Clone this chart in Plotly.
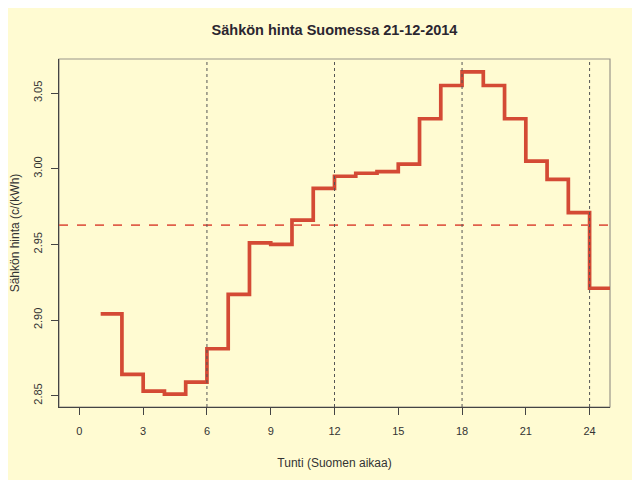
import plotly.graph_objects as go
import numpy as np

# Hourly electricity price (c/kWh), step from hour h to h+1; last value repeated to close the step
hours = list(range(1, 26))
price = [2.904, 2.864, 2.853, 2.851, 2.859, 2.881, 2.917, 2.951, 2.950, 2.966,
         2.987, 2.995, 2.997, 2.998, 3.003, 3.033, 3.055, 3.064, 3.055, 3.033,
         3.005, 2.993, 2.971, 2.921, 2.921]
guide_hours = [6, 12, 18, 24]
x_ticks = [0, 3, 6, 9, 12, 15, 18, 21, 24]
y_ticks = [2.85, 2.90, 2.95, 3.00, 3.05]

mean_price = float(np.mean(price[:24]))

bg = "#FFFBD2"
red = "#D44A35"
font = "Liberation Sans"

fig = go.Figure()

fig.add_trace(go.Scatter(
    x=hours, y=price, mode="lines", line_shape="hv",
    line=dict(color=red, width=3.7), showlegend=False
))

# mean line
fig.add_hline(y=mean_price, line=dict(color="#E0604B", width=1.8, dash="dash"))

for h in guide_hours:
    fig.add_vline(x=h, line=dict(color="#555555", width=1, dash="dot"))

# box around plot area
fig.add_shape(type="rect", xref="paper", yref="paper", x0=0, x1=1, y0=0, y1=1,
              line=dict(color="#9A968A", width=1.2), layer="below")

# page body has an 8px margin, so the figure is sized to fit the window
fig.update_layout(
    width=632, height=472,
    paper_bgcolor=bg, plot_bgcolor=bg,
    margin=dict(l=51, r=30, t=51, b=73),
    font=dict(family=font, size=12, color="#2B2630"),
    title=dict(text="<b>Sähkön hinta Suomessa 21-12-2014</b>", x=0.5, xanchor="center",
               xref="paper", y=0.953, yanchor="middle",
               font=dict(family=font, size=14.5, color="#2B2630")),
)

fig.update_xaxes(
    range=[-0.96, 24.96], tickvals=x_ticks, ticks="outside", ticklen=7,
    tickcolor="#444444", showgrid=False, zeroline=False,
    showline=True, linecolor="#444444", linewidth=1.2,
    ticklabelstandoff=7, automargin=False,
    tickfont=dict(size=11, color="#333333"),
    title=dict(text="Tunti (Suomen aikaa)", standoff=22, font=dict(size=12, color="#333333")),
)
fig.update_yaxes(
    range=[2.8425, 3.0725], tickvals=y_ticks, tickformat=".2f", ticks="outside", ticklen=7,
    tickcolor="#444444", tickangle=-90, showgrid=False, zeroline=False,
    showline=True, linecolor="#444444", linewidth=1.2,
    ticklabelstandoff=5, automargin=False,
    tickfont=dict(size=11, color="#333333"),
    title=dict(text="Sähkön hinta (c/(kWh)", font=dict(size=12, color="#333333")),
)

fig.write_html("out.html")
